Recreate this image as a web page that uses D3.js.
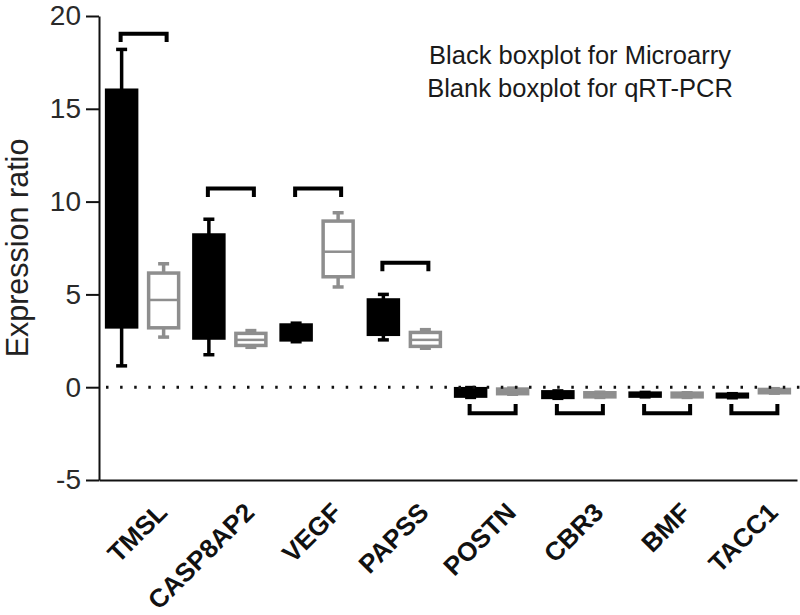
<!DOCTYPE html>
<html lang="en">
<head>
<meta charset="utf-8">
<title>Expression ratio</title>
<script src="https://cdn.jsdelivr.net/npm/d3@7"></script>
<style>
  body { margin: 0; background: #fff; }
  svg { font-family: "Liberation Sans", Arial, sans-serif; }
</style>
</head>
<body>
<script>
// genes on the x axis
var genes = ["TMSL", "CASP8AP2", "VEGF", "PAPSS", "POSTN", "CBR3", "BMF", "TACC1"];

// microarray (black) : [min, q1, median, q3, max]
var micro = [
  [1.15, 3.25, 9.0, 16.0, 18.2],
  [1.75, 2.65, 5.0, 8.2, 9.05],
  [2.45, 2.55, 3.0, 3.35, 3.45],
  [2.55, 2.85, 3.8, 4.7, 5.0],
  [-0.55, -0.48, -0.3, -0.08, -0.02],
  [-0.6, -0.55, -0.4, -0.25, -0.2],
  [-0.52, -0.48, -0.4, -0.32, -0.28],
  [-0.57, -0.52, -0.45, -0.38, -0.35]
];

// qRT-PCR (grey, blank boxes) : [min, q1, median, q3, max]
var qpcr = [
  [2.7, 3.2, 4.7, 6.15, 6.65],
  [2.15, 2.25, 2.55, 2.9, 3.05],
  [5.4, 5.95, 7.3, 8.95, 9.4],
  [2.1, 2.2, 2.55, 2.95, 3.1],
  [-0.38, -0.35, -0.22, -0.1, -0.05],
  [-0.55, -0.52, -0.4, -0.3, -0.27],
  [-0.55, -0.52, -0.42, -0.32, -0.3],
  [-0.32, -0.3, -0.2, -0.12, -0.08]
];

// significance brackets: level and direction of the legs
var bracketY = [19.05, 10.7, 10.7, 6.7, -1.4, -1.4, -1.4, -1.4];
var yTicks = [-5, 0, 5, 10, 15, 20];
var legend = ["Black boxplot for Microarry", "Blank boxplot for qRT-PCR"];

var width = 800, height = 615;
var grey = "#8e8e8e";

var svg = d3.select("body").append("svg")
  .attr("width", width)
  .attr("height", height);

var x = d3.scaleBand().domain(genes).range([99, 797]).padding(0);
var y = d3.scaleLinear().domain([-5, 20]).range([480, 16]);

var off = 21, bw = 30, capW = 11;

// y axis
var yAxis = d3.axisLeft(y).tickValues(yTicks).tickSize(13).tickSizeOuter(0).tickPadding(5)
  .tickFormat(function(d) { return String(d); });
var gy = svg.append("g").attr("transform", "translate(99,0)").call(yAxis);
gy.selectAll("path, line").attr("stroke", "#111").attr("stroke-width", 2);
gy.selectAll("text").attr("font-size", 28).attr("fill", "#2a2a2a")
  .attr("font-family", "Liberation Sans, Arial, sans-serif");

// x axis
var xAxis = d3.axisBottom(x).tickSize(0).tickSizeOuter(0);
var gx = svg.append("g").attr("transform", "translate(0,480)").call(xAxis);
gx.select("path").attr("stroke", "#111").attr("stroke-width", 2);
gx.selectAll("text")
  .attr("font-size", 26)
  .attr("font-weight", "bold")
  .attr("fill", "#111")
  .attr("font-family", "Liberation Sans, Arial, sans-serif")
  .attr("text-anchor", "end")
  .attr("dy", 0)
  .attr("y", 0)
  .attr("transform", "translate(26,34) rotate(-45)");

// y title
svg.append("text")
  .attr("transform", "translate(28,248) rotate(-90)")
  .attr("text-anchor", "middle")
  .attr("font-size", 30.5)
  .attr("fill", "#222")
  .text("Expression ratio");

function drawBoxes(data, dx, black) {
  var g = svg.append("g");
  var col = black ? "#000" : grey;
  data.forEach(function(d, i) {
    var cx = x(genes[i]) + x.bandwidth() / 2 + dx;
    // whiskers
    g.append("line").attr("x1", cx).attr("x2", cx).attr("y1", y(d[4])).attr("y2", y(d[3]))
      .attr("stroke", col).attr("stroke-width", 3.5);
    g.append("line").attr("x1", cx).attr("x2", cx).attr("y1", y(d[0])).attr("y2", y(d[1]))
      .attr("stroke", col).attr("stroke-width", 3.5);
    g.append("line").attr("x1", cx - capW / 2).attr("x2", cx + capW / 2).attr("y1", y(d[4])).attr("y2", y(d[4]))
      .attr("stroke", col).attr("stroke-width", 3.5);
    g.append("line").attr("x1", cx - capW / 2).attr("x2", cx + capW / 2).attr("y1", y(d[0])).attr("y2", y(d[0]))
      .attr("stroke", col).attr("stroke-width", 3.5);
    // box
    g.append("rect")
      .attr("x", cx - bw / 2)
      .attr("y", y(d[3]))
      .attr("width", bw)
      .attr("height", Math.max(1, y(d[1]) - y(d[3])))
      .attr("fill", black ? "#000" : "#fff")
      .attr("stroke", col)
      .attr("stroke-width", 3.5);
    // median
    g.append("line").attr("x1", cx - bw / 2).attr("x2", cx + bw / 2).attr("y1", y(d[2])).attr("y2", y(d[2]))
      .attr("stroke", col).attr("stroke-width", 2.5);
  });
}

drawBoxes(micro, -off, true);
drawBoxes(qpcr, off, false);

// dotted zero line
svg.append("line")
  .attr("x1", 106).attr("x2", 800)
  .attr("y1", y(0)).attr("y2", y(0))
  .attr("stroke", "#111")
  .attr("stroke-width", 3)
  .attr("stroke-dasharray", "2.5 11.6");

// brackets
var gb = svg.append("g");
bracketY.forEach(function(v, i) {
  var c = x(genes[i]) + x.bandwidth() / 2;
  var leg = v > 0 ? -0.45 : 0.5;
  var x1 = c - 22, x2 = c + 24;
  gb.append("path")
    .attr("d", "M" + x1 + "," + y(v + leg) + "V" + y(v) + "H" + x2 + "V" + y(v + leg))
    .attr("fill", "none")
    .attr("stroke", "#000")
    .attr("stroke-width", 4);
});

// legend text
svg.append("g").selectAll("text")
  .data(legend)
  .enter().append("text")
  .attr("x", 580)
  .attr("y", function(d, i) { return 64 + i * 33; })
  .attr("text-anchor", "middle")
  .attr("font-size", 25.5)
  .attr("fill", "#1a1a1a")
  .text(function(d) { return d; });
</script>
</body>
</html>
